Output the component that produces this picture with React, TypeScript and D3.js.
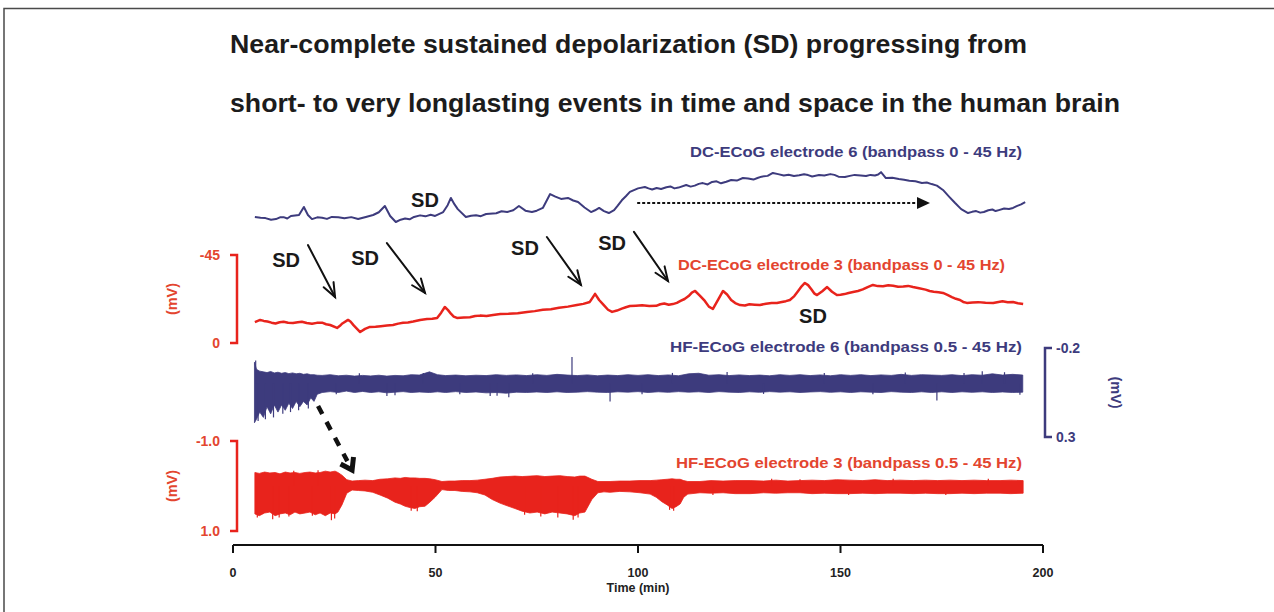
import React from "react";
import * as d3 from "d3";

const W = 1274;
const H = 612;

const titleLines = [
  "Near-complete sustained depolarization (SD) progressing from",
  "short- to very longlasting events in time and space in the human brain",
];

const timeTicks = [0, 50, 100, 150, 200];
const redDcTicks = [-45, 0];
const redHfTicks = [-1.0, 1.0];
const blueHfTicks = [-0.2, 0.3];

const traceLabels = {
  dc6: "DC-ECoG electrode 6 (bandpass 0 - 45 Hz)",
  dc3: "DC-ECoG electrode 3 (bandpass 0 - 45 Hz)",
  hf6: "HF-ECoG electrode 6 (bandpass 0.5 - 45 Hz)",
  hf3: "HF-ECoG electrode 3 (bandpass 0.5 - 45 Hz)",
};

// DC-ECoG electrode 6: [time (min), mV]
const dc6: [number, number][] = [
  [5.4, -21.0], [6.8, -20.6], [8.0, -20.4], [9.4, -19.6], [10.6, -19.9], [11.6, -20.8], [12.5, -20.9], [13.4, -20.2], [14.3, -21.5], [16.3, -22.0],
  [17.5, -26.1], [18.5, -22.0], [19.5, -19.9], [20.8, -20.8], [22.0, -20.6], [23.2, -20.0], [24.4, -21.0], [26.0, -20.8], [27.5, -20.3], [29.2, -20.9], [30.9, -19.9],
  [32.8, -21.0], [34.6, -22.0], [36.0, -23.4], [37.5, -26.6], [38.8, -21.5], [40.2, -18.4], [41.4, -19.6], [42.5, -20.2], [43.6, -19.8], [44.7, -21.0], [46.2, -21.8], [47.5, -21.3],
  [48.8, -22.1], [49.9, -21.5], [51.9, -23.5], [53.0, -27.0], [53.8, -30.7], [54.7, -27.4], [55.5, -25.0], [57.5, -21.0], [58.8, -21.6], [60.0, -21.9], [61.2, -21.4],
  [62.5, -22.5], [65.0, -22.9], [66.3, -23.9], [67.7, -23.5], [69.2, -24.4], [70.6, -26.6], [72.2, -24.2], [73.8, -23.5], [75.0, -24.2], [76.5, -25.6],
  [78.3, -32.7], [79.6, -31.4], [81.0, -30.2], [82.7, -30.7], [84.0, -29.4], [85.2, -28.6], [86.8, -25.8], [88.4, -23.5], [89.4, -24.4], [90.4, -25.6],
  [91.6, -24.0], [92.8, -23.0], [94.1, -24.5], [95.0, -26.8], [96.0, -29.5], [97.0, -31.6], [98.0, -33.8], [100.0, -35.6], [101.7, -36.3], [102.6, -35.6],
  [103.5, -35.0], [104.6, -35.8], [105.7, -35.3], [107.0, -36.2], [108.0, -36.6], [109.0, -35.6], [110.0, -36.0], [111.9, -37.3], [113.0, -36.5], [114.0, -37.0],
  [115.0, -37.9], [116.0, -38.3], [117.2, -37.6], [118.3, -38.9], [119.4, -39.2], [120.5, -38.2], [121.8, -39.0], [123.0, -39.9], [124.4, -39.6], [125.9, -40.9], [127.2, -40.6], [128.5, -40.1],
  [129.5, -40.9], [130.5, -41.6], [132.0, -42.0], [133.3, -43.5], [134.6, -42.9], [136.0, -42.2], [137.2, -42.6], [138.5, -41.9], [139.8, -42.3], [141.0, -42.8], [142.0, -42.4], [143.0, -41.7],
  [144.7, -42.4], [146.0, -42.2], [147.5, -42.9], [148.5, -42.5], [149.5, -41.6], [151.1, -41.4], [152.3, -42.0], [153.5, -42.5], [155.0, -42.2], [156.3, -41.9],
  [157.4, -42.5], [158.5, -42.2], [159.3, -42.7], [160.0, -43.9], [160.6, -42.4], [161.2, -40.9], [162.8, -41.0], [164.4, -40.4], [165.7, -40.0], [167.0, -39.5], [168.5, -39.2], [170.1, -38.4],
  [171.3, -38.6], [172.5, -37.8], [173.8, -37.0], [175.3, -34.8], [176.8, -31.4], [178.3, -28.1], [179.8, -25.0], [181.5, -23.0], [182.5, -23.6], [183.5, -24.0], [184.5, -23.2], [185.4, -23.5],
  [186.5, -24.4], [187.5, -24.8], [188.3, -24.0], [189.1, -24.5], [190.4, -25.3], [191.6, -25.1], [192.6, -25.6], [193.5, -26.5], [194.6, -27.4], [195.6, -28.6],
];

// DC-ECoG electrode 3: [time (min), mV]
const dc3: [number, number][] = [
  [5.4, -10.7], [6.7, -11.8], [7.6, -11.3], [8.5, -11.0], [9.5, -10.4], [10.5, -10.0], [11.5, -10.6], [12.5, -10.9], [13.6, -10.4], [14.8, -10.2],
  [16.0, -10.6], [17.0, -10.9], [18.2, -10.2], [19.5, -9.8], [20.7, -10.3], [22.0, -10.4], [23.0, -9.6], [24.0, -9.2], [25.7, -7.7], [26.4, -8.8], [27.0, -10.0],
  [28.4, -11.8], [29.0, -11.0], [29.8, -9.0], [31.4, -5.6], [32.6, -7.2], [33.8, -8.2], [35.2, -8.3], [36.5, -8.6], [38.0, -8.9], [39.5, -9.2], [40.8, -9.9],
  [42.0, -10.3], [43.2, -10.5], [44.5, -11.0], [46.2, -11.8], [47.9, -12.3], [49.2, -12.4], [50.4, -12.8], [51.4, -15.5], [52.3, -18.4], [53.1, -16.8], [53.8, -15.0], [54.5, -13.5],
  [55.3, -12.8], [57.0, -13.0], [58.5, -13.2], [59.8, -13.8], [61.0, -14.0], [62.6, -13.8], [64.2, -14.3], [66.0, -14.8], [68.0, -14.9], [70.3, -15.2], [72.6, -15.9],
  [74.5, -16.3], [76.5, -17.0], [78.5, -17.3], [80.5, -18.0], [82.7, -18.6], [84.9, -19.4], [86.5, -20.0], [88.1, -21.0], [88.8, -23.2], [89.4, -25.1], [90.4, -22.0], [91.5, -19.5],
  [92.6, -17.0], [93.6, -15.9], [94.8, -16.6], [96.0, -17.6], [97.0, -18.3], [98.0, -18.9], [99.5, -19.1], [101.0, -19.3], [102.8, -18.9], [104.5, -19.0], [105.5, -19.8], [106.5, -20.2],
  [107.6, -19.6], [108.6, -19.9], [109.6, -20.5], [110.5, -21.5], [111.5, -22.5], [112.5, -24.0], [113.3, -25.8], [114.1, -26.6], [115.2, -24.4], [116.5, -21.5], [117.5, -18.6], [118.5, -17.4],
  [119.2, -20.0], [120.0, -23.0], [121.0, -26.6], [122.0, -24.8], [123.0, -22.0], [124.0, -20.4], [125.2, -19.4], [126.4, -19.2], [127.5, -19.8], [128.8, -19.6], [130.1, -19.4],
  [131.6, -20.1], [133.0, -20.5], [134.3, -20.5], [135.5, -21.0], [136.5, -21.4], [137.5, -22.0], [138.6, -24.0], [139.5, -26.5], [140.4, -29.0], [141.2, -30.7], [142.0, -29.6], [142.8, -27.5],
  [143.5, -25.4], [144.2, -24.5], [145.5, -26.5], [146.7, -28.6], [147.9, -26.2], [149.1, -24.5], [150.0, -24.7], [151.0, -25.0], [152.0, -25.6], [153.1, -26.1], [154.3, -26.6], [155.5, -27.4],
  [156.7, -28.6], [158.0, -29.7], [159.2, -29.1], [160.5, -29.0], [161.8, -29.5], [163.0, -29.3], [164.2, -28.8], [165.5, -28.9], [166.7, -29.2], [167.9, -28.6], [169.4, -28.0], [171.0, -27.3],
  [172.0, -26.6], [173.0, -26.2], [174.2, -26.0], [175.3, -25.6], [176.4, -24.6], [177.5, -23.5], [178.5, -22.6], [179.5, -22.0], [180.3, -21.0], [181.2, -20.5], [182.6, -20.7], [184.0, -20.9],
  [185.8, -20.6], [187.7, -20.5], [189.0, -21.0], [190.0, -21.3], [191.3, -20.8], [192.6, -21.0], [193.8, -20.3], [195.1, -19.9],
];

// HF-ECoG electrode 6 envelope: [time (min), upper mV, lower mV]
const hf6Env: [number, number, number][] = [
  [5.3, -0.12, 0.22], [5.8, -0.08, 0.2], [6.6, -0.07, 0.16], [7.5, -0.066, 0.19], [8.4, -0.062, 0.13],
  [9.3, -0.068, 0.17], [10.2, -0.06, 0.12], [11.1, -0.064, 0.16], [12.0, -0.058, 0.12], [12.9, -0.062, 0.15],
  [13.8, -0.056, 0.11], [14.7, -0.06, 0.14], [15.6, -0.055, 0.1], [16.5, -0.058, 0.13], [17.4, -0.052, 0.1],
  [18.3, -0.055, 0.12], [19.2, -0.05, 0.08], [20.0, -0.05, 0.1], [20.8, -0.047, 0.06], [22.0, -0.046, 0.05],
  [24.0, -0.05, 0.045], [26.0, -0.044, 0.05], [28.0, -0.047, 0.042], [30.0, -0.042, 0.05], [32.0, -0.046, 0.044],
  [34.0, -0.043, 0.05], [36.0, -0.047, 0.046], [38.0, -0.042, 0.052], [40.0, -0.046, 0.048], [42.0, -0.044, 0.045],
  [44.0, -0.05, 0.05], [46.0, -0.048, 0.047], [48.5, -0.066, 0.05], [50.5, -0.05, 0.046], [52.5, -0.045, 0.05],
  [55.0, -0.048, 0.045], [57.5, -0.044, 0.05], [60.0, -0.047, 0.047], [62.5, -0.045, 0.052], [65.0, -0.05, 0.05],
  [67.5, -0.046, 0.054], [70.0, -0.049, 0.048], [72.5, -0.045, 0.05], [75.0, -0.05, 0.047], [77.5, -0.046, 0.05],
  [80.0, -0.052, 0.046], [82.5, -0.048, 0.05], [85.0, -0.045, 0.048], [87.5, -0.049, 0.045], [90.0, -0.044, 0.048],
  [92.5, -0.048, 0.05], [95.0, -0.045, 0.046], [97.5, -0.05, 0.048], [100.0, -0.046, 0.045], [102.5, -0.05, 0.05],
  [105.0, -0.045, 0.046], [107.5, -0.049, 0.049], [110.0, -0.044, 0.045], [112.5, -0.055, 0.048], [115.0, -0.058, 0.046],
  [117.5, -0.047, 0.05], [120.0, -0.05, 0.045], [122.5, -0.045, 0.048], [125.0, -0.049, 0.05], [127.5, -0.045, 0.046],
  [130.0, -0.048, 0.049], [132.5, -0.044, 0.045], [135.0, -0.05, 0.048], [137.5, -0.046, 0.046], [140.0, -0.05, 0.05],
  [142.5, -0.045, 0.047], [145.0, -0.049, 0.045], [147.5, -0.044, 0.049], [150.0, -0.05, 0.046], [152.5, -0.046, 0.05],
  [155.0, -0.05, 0.046], [157.5, -0.045, 0.048], [160.0, -0.049, 0.05], [162.5, -0.046, 0.045], [165.0, -0.052, 0.048],
  [167.5, -0.046, 0.05], [170.0, -0.05, 0.046], [172.5, -0.048, 0.05], [175.0, -0.046, 0.046], [177.5, -0.05, 0.05],
  [180.0, -0.045, 0.046], [182.5, -0.05, 0.049], [185.0, -0.047, 0.046], [187.5, -0.055, 0.05], [190.0, -0.048, 0.047],
  [192.5, -0.052, 0.05], [195.0, -0.048, 0.048],
];

// HF-ECoG electrode 6 isolated spikes: [time (min), peak mV]
const hf6Spikes: [number, number][] = [
  [5.6, -0.13], [6.2, 0.21], [8.0, 0.2], [10.0, 0.19], [12.3, 0.17], [14.2, 0.16], [16.2, 0.15],
  [18.6, 0.14], [25.5, 0.06], [31.2, -0.058], [38.0, 0.07], [40.0, 0.066], [47.0, -0.06], [56.0, 0.06],
  [63.5, 0.07], [65.2, 0.068], [68.1, 0.076], [74.0, -0.058], [83.7, -0.15], [93.1, 0.1],
  [101.0, 0.06], [108.5, -0.06], [122.0, -0.065], [131.0, 0.058], [146.0, -0.06], [158.0, 0.06],
  [166.0, -0.062], [173.8, 0.095], [180.5, -0.06], [185.0, -0.07], [190.5, -0.064], [194.3, 0.062],
];

// HF-ECoG electrode 3 envelope: [time (min), upper mV, lower mV]
const hf3Env: [number, number, number][] = [
  [5.4, -0.3, 0.62], [6.5, -0.28, 0.66], [7.8, -0.31, 0.6], [9.1, -0.29, 0.58], [10.4, -0.3, 0.66],
  [11.6, -0.27, 0.62], [12.9, -0.31, 0.6], [14.1, -0.29, 0.64], [15.3, -0.3, 0.58], [16.5, -0.28, 0.62],
  [17.8, -0.3, 0.6], [19.0, -0.31, 0.58], [20.3, -0.29, 0.64], [21.5, -0.3, 0.6], [22.8, -0.33, 0.66],
  [24.0, -0.31, 0.6], [25.2, -0.33, 0.62], [25.9, -0.3, 0.58], [26.9, -0.24, 0.42], [28.1, -0.14, 0.16],
  [29.4, -0.11, 0.09], [31.0, -0.12, 0.1], [32.6, -0.13, 0.11], [34.5, -0.12, 0.14], [36.3, -0.15, 0.2],
  [38.2, -0.16, 0.27], [40.0, -0.18, 0.36], [41.3, -0.17, 0.4], [42.5, -0.19, 0.45], [43.7, -0.18, 0.48],
  [44.9, -0.18, 0.5], [46.1, -0.17, 0.46], [47.4, -0.17, 0.45], [48.6, -0.16, 0.36], [49.9, -0.14, 0.25],
  [51.6, -0.1, 0.08], [53.2, -0.11, 0.1], [54.8, -0.11, 0.1], [56.6, -0.12, 0.12], [58.5, -0.12, 0.13],
  [60.3, -0.13, 0.15], [62.2, -0.15, 0.2], [64.0, -0.17, 0.3], [65.9, -0.2, 0.38], [67.7, -0.21, 0.44],
  [69.6, -0.22, 0.5], [71.4, -0.21, 0.56], [73.3, -0.22, 0.6], [75.1, -0.23, 0.58], [77.0, -0.21, 0.62],
  [78.8, -0.22, 0.58], [80.7, -0.23, 0.6], [82.5, -0.21, 0.62], [84.4, -0.2, 0.66], [85.6, -0.22, 0.6],
  [86.9, -0.22, 0.58], [88.6, -0.15, 0.3], [90.1, -0.1, 0.15], [91.6, -0.1, 0.13], [93.1, -0.1, 0.14],
  [95.5, -0.11, 0.12], [98.0, -0.11, 0.13], [100.5, -0.12, 0.15], [103.0, -0.12, 0.18], [104.5, -0.13, 0.25],
  [105.9, -0.14, 0.35], [107.2, -0.15, 0.42], [108.4, -0.16, 0.5], [109.4, -0.15, 0.46], [110.4, -0.15, 0.4],
  [111.3, -0.12, 0.25], [112.3, -0.1, 0.18], [115.3, -0.1, 0.15], [118.0, -0.12, 0.16], [121.0, -0.11, 0.15],
  [124.0, -0.12, 0.17], [127.7, -0.12, 0.17], [131.0, -0.11, 0.15], [134.0, -0.13, 0.16], [137.0, -0.11, 0.15],
  [140.0, -0.12, 0.15], [143.0, -0.13, 0.17], [146.0, -0.12, 0.16], [149.0, -0.14, 0.17], [152.3, -0.13, 0.17],
  [155.5, -0.12, 0.16], [158.5, -0.14, 0.17], [161.5, -0.12, 0.16], [164.7, -0.13, 0.16], [168.0, -0.12, 0.17],
  [171.0, -0.13, 0.16], [174.0, -0.12, 0.17], [177.0, -0.13, 0.17], [180.0, -0.12, 0.16], [183.0, -0.13, 0.17],
  [186.0, -0.12, 0.16], [189.4, -0.12, 0.16], [192.0, -0.13, 0.17], [195.1, -0.12, 0.16],
];

// HF-ECoG electrode 3 isolated spikes: [time (min), peak mV]
const hf3Spikes: [number, number][] = [
  [6.0, 0.7], [9.8, 0.74], [11.4, 0.7], [13.8, 0.68], [19.6, 0.66], [24.3, 0.76], [25.1, 0.72],
  [44.0, 0.55], [45.5, 0.56], [72.0, 0.64], [76.0, 0.68], [80.2, 0.7], [84.0, 0.75], [85.2, 0.7],
  [107.8, 0.53], [108.8, 0.55], [15.0, -0.34], [21.0, -0.35], [118.5, 0.2], [133.0, -0.16],
  [140.0, -0.15], [152.0, 0.2], [163.0, -0.16], [176.0, 0.2], [186.5, -0.16],
];

// Annotations in data units (time, mV on the relevant trace scale)
const sdArrows: [number, number, number, number][] = [
  [18.5, -50.1, 25.2, -23.5],
  [38.0, -51.1, 47.4, -25.6],
  [77.5, -54.2, 85.9, -29.7],
  [99.0, -56.8, 107.4, -31.7],
];
const sdLabelsRed: [number, number][] = [
  [13.1, -42.4], [32.6, -43.5], [72.1, -48.6], [93.6, -51.1], [143.2, -13.8],
];
const sdLabelBlue: [number, number] = [47.4, -29.7];
const plateauArrow: [number, number, number] = [99.8, 172.1, -28.1];
const spreadArrow: [number, number, number, number] = [21.0, 0.126, 29.4, -0.356];

const NAVY = "#3d3b7d";
const RED = "#e8231c";
const RED_TXT = "#e3452f";
const FONT = "'Liberation Sans', Arial, Helvetica, sans-serif";

const x = d3.scaleLinear().domain([0, 200]).range([233, 1043]);
const yDc6 = d3.scaleLinear().domain([-45, 0]).range([170, 258]);
const yDc3 = d3.scaleLinear().domain([-45, 0]).range([255, 343]);
const yHf6 = d3.scaleLinear().domain([-0.2, 0.3]).range([348, 437]);
const yHf3 = d3.scaleLinear().domain([-1.0, 1.0]).range([441, 531]);

function arrowHead(x1: number, y1: number, x2: number, y2: number, len: number, ang: number) {
  const a = Math.atan2(y2 - y1, x2 - x1);
  const p1 = [x2 - len * Math.cos(a - ang), y2 - len * Math.sin(a - ang)];
  const p2 = [x2 - len * Math.cos(a + ang), y2 - len * Math.sin(a + ang)];
  return `M${p1[0]},${p1[1]}L${x2},${y2}L${p2[0]},${p2[1]}`;
}

export default function App() {
  const lineDc6 = d3.line<[number, number]>().x((d) => x(d[0])).y((d) => yDc6(d[1])).curve(d3.curveLinear);
  const lineDc3 = d3.line<[number, number]>().x((d) => x(d[0])).y((d) => yDc3(d[1])).curve(d3.curveLinear);
  const areaHf6 = d3.area<[number, number, number]>().x((d) => x(d[0])).y0((d) => yHf6(d[2])).y1((d) => yHf6(d[1]));
  const areaHf3 = d3.area<[number, number, number]>().x((d) => x(d[0])).y0((d) => yHf3(d[2])).y1((d) => yHf3(d[1]));

  const axisY = 545;

  const pa = { x1: x(plateauArrow[0]), x2: x(plateauArrow[1]), y: yDc6(plateauArrow[2]) };
  const sa = { x1: x(spreadArrow[0]), y1: yHf6(spreadArrow[1]), x2: x(spreadArrow[2]), y2: yHf3(spreadArrow[3]) };
  const saAng = Math.atan2(sa.y2 - sa.y1, sa.x2 - sa.x1);
  const saShaftEnd = { x: sa.x2 - 10 * Math.cos(saAng), y: sa.y2 - 10 * Math.sin(saAng) };

  const labelProps = { fontSize: 14.5, fontWeight: "bold" as const, textAnchor: "end" as const, lengthAdjust: "spacingAndGlyphs" };

  return (
    <div style={{ position: "absolute", left: 0, top: 0, width: W, height: H, background: "#fff" }}>
      <svg width={W} height={H} style={{ display: "block" }} fontFamily={FONT}>
        <rect x={0} y={0} width={W} height={H} fill="#fff" />
        <rect x={4} y={8.5} width={W + 20} height={H + 20} fill="none" stroke="#4a4a4a" strokeWidth={1.5} />

        {/* Title */}
        <text x={230} y={53} fontSize={25} fontWeight="bold" fill="#1c1c1c" textLength={797} lengthAdjust="spacingAndGlyphs">
          {titleLines[0]}
        </text>
        <text x={230} y={112} fontSize={25} fontWeight="bold" fill="#1c1c1c" textLength={890} lengthAdjust="spacingAndGlyphs">
          {titleLines[1]}
        </text>

        {/* DC electrode 6 */}
        <text x={1022} y={157} {...labelProps} fill={NAVY} textLength={332}>
          {traceLabels.dc6}
        </text>
        <path d={lineDc6(dc6) || ""} fill="none" stroke={NAVY} strokeWidth={2} strokeLinejoin="round" />
        <text x={x(sdLabelBlue[0])} y={yDc6(sdLabelBlue[1])} textAnchor="middle" dominantBaseline="central" fontSize={20} fontWeight="bold" fill="#1a1a1a">
          SD
        </text>
        <line x1={pa.x1} x2={pa.x2 - 12} y1={pa.y} y2={pa.y} stroke="#111" strokeWidth={2} strokeDasharray="3,2" />
        <path d={`M${pa.x2 - 13},${pa.y - 6}L${pa.x2},${pa.y}L${pa.x2 - 13},${pa.y + 6}Z`} fill="#111" />

        {/* DC electrode 3 axis */}
        <path d={`M${230},${yDc3(redDcTicks[0])}H${237}V${yDc3(redDcTicks[1])}H${230}`} fill="none" stroke={RED} strokeWidth={2.5} />
        {redDcTicks.map((v) => (
          <text key={v} x={220} y={yDc3(v)} textAnchor="end" dominantBaseline="central" fontSize={14} fontWeight="bold" fill={RED_TXT}>
            {String(v)}
          </text>
        ))}
        <text transform={`translate(172,${(yDc3(-45) + yDc3(0)) / 2}) rotate(-90)`} textAnchor="middle" dominantBaseline="central" fontSize={14.5} fontWeight="bold" fill={RED_TXT}>
          (mV)
        </text>
        <text x={1005} y={270} {...labelProps} fill={RED_TXT} textLength={327}>
          {traceLabels.dc3}
        </text>
        <path d={lineDc3(dc3) || ""} fill="none" stroke={RED} strokeWidth={2.5} strokeLinejoin="round" />
        {sdLabelsRed.map((d, i) => (
          <text key={i} x={x(d[0])} y={yDc3(d[1])} textAnchor="middle" dominantBaseline="central" fontSize={20} fontWeight="bold" fill="#1a1a1a">
            SD
          </text>
        ))}
        {sdArrows.map((a, i) => {
          const x1 = x(a[0]), y1 = yDc3(a[1]), x2 = x(a[2]), y2 = yDc3(a[3]);
          return (
            <g key={i} stroke="#111" strokeWidth={2} fill="none" strokeLinecap="round">
              <line x1={x1} y1={y1} x2={x2} y2={y2} />
              <path d={arrowHead(x1, y1, x2, y2, 15, 0.38)} strokeLinejoin="miter" />
            </g>
          );
        })}

        {/* HF electrode 6 */}
        <text x={1022} y={352} {...labelProps} fill={NAVY} textLength={352}>
          {traceLabels.hf6}
        </text>
        <path d={areaHf6(hf6Env) || ""} fill={NAVY} stroke={NAVY} strokeWidth={0.8} />
        {hf6Spikes.map((s, i) => (
          <line key={i} x1={x(s[0])} x2={x(s[0])} y1={yHf6(0)} y2={yHf6(s[1])} stroke={NAVY} strokeWidth={1.2} />
        ))}
        <path d={`M${1052},${yHf6(blueHfTicks[0])}H${1045}V${yHf6(blueHfTicks[1])}H${1052}`} fill="none" stroke={NAVY} strokeWidth={2.5} />
        {blueHfTicks.map((v) => (
          <text key={v} x={1056} y={yHf6(v)} textAnchor="start" dominantBaseline="central" fontSize={14} fontWeight="bold" fill={NAVY}>
            {v.toFixed(1)}
          </text>
        ))}
        <text transform={`translate(1116,${(yHf6(-0.2) + yHf6(0.3)) / 2}) rotate(90)`} textAnchor="middle" dominantBaseline="central" fontSize={14.5} fontWeight="bold" fill={NAVY}>
          (mV)
        </text>

        {/* spread arrow */}
        <line x1={sa.x1} y1={sa.y1} x2={saShaftEnd.x} y2={saShaftEnd.y} stroke="#111" strokeWidth={4.5} strokeDasharray="9,9" />
        <path d={arrowHead(sa.x1, sa.y1, sa.x2, sa.y2, 13, 0.6)} fill="none" stroke="#111" strokeWidth={5} strokeLinejoin="miter" />

        {/* HF electrode 3 */}
        <text x={1022} y={468} {...labelProps} fill={RED_TXT} textLength={346}>
          {traceLabels.hf3}
        </text>
        <path d={areaHf3(hf3Env) || ""} fill={RED} stroke={RED} strokeWidth={0.8} />
        {hf3Spikes.map((s, i) => (
          <line key={i} x1={x(s[0])} x2={x(s[0])} y1={yHf3(0)} y2={yHf3(s[1])} stroke={RED} strokeWidth={1.2} />
        ))}
        <path d={`M${230},${yHf3(redHfTicks[0])}H${237}V${yHf3(redHfTicks[1])}H${230}`} fill="none" stroke={RED} strokeWidth={2.5} />
        {redHfTicks.map((v) => (
          <text key={v} x={220} y={yHf3(v)} textAnchor="end" dominantBaseline="central" fontSize={14} fontWeight="bold" fill={RED_TXT}>
            {v.toFixed(1)}
          </text>
        ))}
        <text transform={`translate(172,${(yHf3(-1) + yHf3(1)) / 2}) rotate(-90)`} textAnchor="middle" dominantBaseline="central" fontSize={14.5} fontWeight="bold" fill={RED_TXT}>
          (mV)
        </text>

        {/* X axis */}
        <line x1={x(0)} x2={x(200)} y1={axisY} y2={axisY} stroke="#111" strokeWidth={2} />
        {timeTicks.map((t) => (
          <g key={t}>
            <line x1={x(t)} x2={x(t)} y1={axisY} y2={axisY + 8} stroke="#111" strokeWidth={2} />
            <text x={x(t)} y={axisY + 28} textAnchor="middle" dominantBaseline="central" fontSize={12.5} fontWeight="bold" fill="#222">
              {t}
            </text>
          </g>
        ))}
        <text x={(x(0) + x(200)) / 2} y={axisY + 43} textAnchor="middle" dominantBaseline="central" fontSize={12.5} fontWeight="bold" fill="#222">
          Time (min)
        </text>
      </svg>
    </div>
  );
}
